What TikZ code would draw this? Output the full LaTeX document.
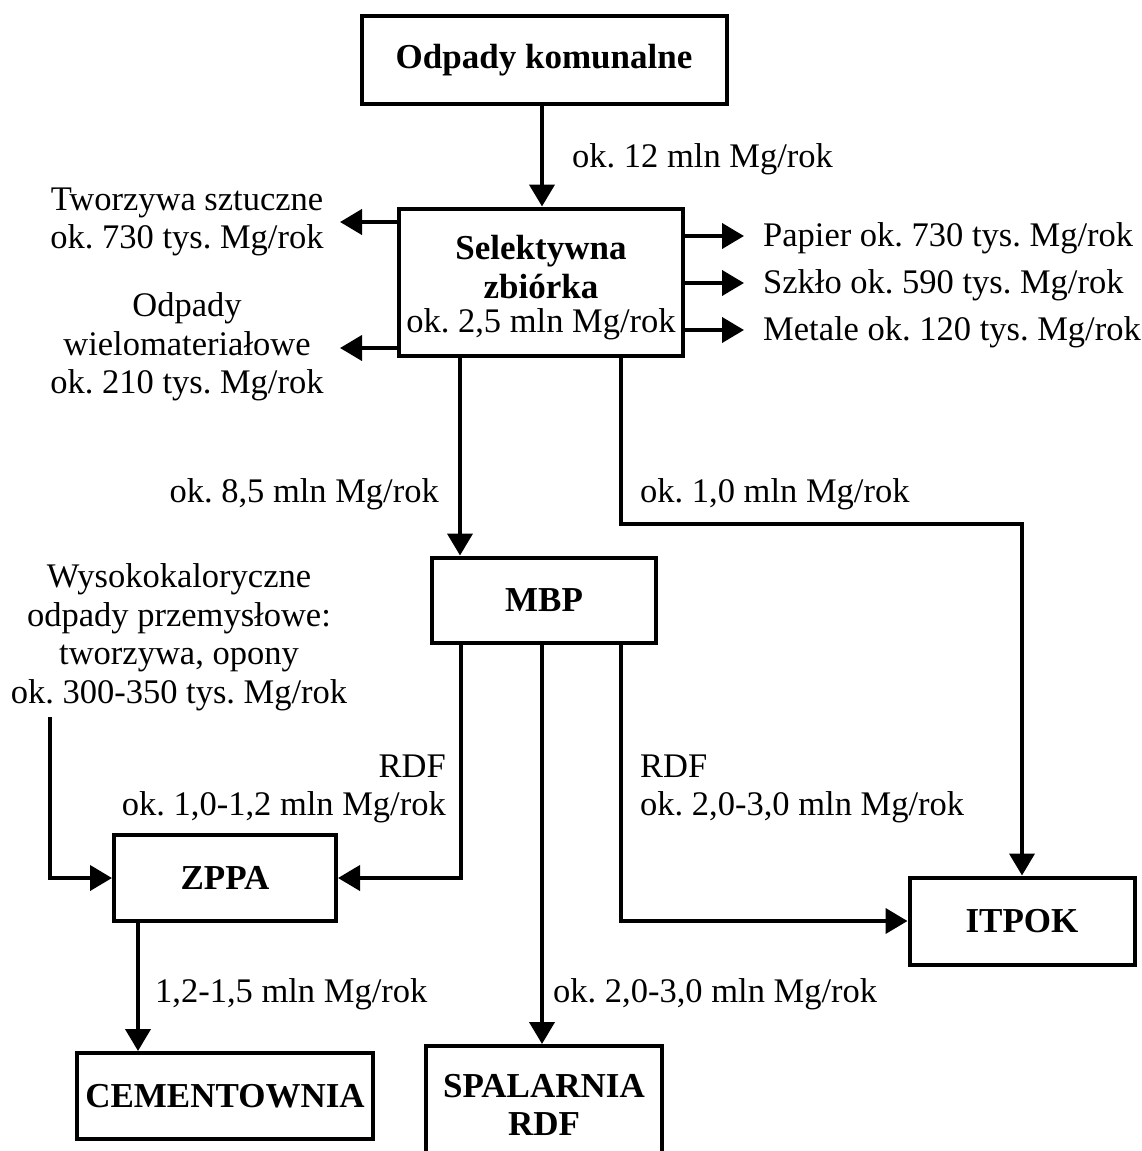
\documentclass[tikz,border=0pt]{standalone}
\usepackage{fontspec}
\setmainfont{Liberation Serif}
\usetikzlibrary{arrows.meta}
\frenchspacing
\tikzset{
  box/.style={draw, line width=4pt, font=\fontsize{35}{38}\selectfont\bfseries, align=center, inner sep=0pt},
  txt/.style={font=\fontsize{34.5}{38.5}\selectfont, inner sep=0pt},
  flow/.style={line width=4pt, -{Triangle[length=22pt,width=25pt]}}
}
\begin{document}
\begin{tikzpicture}[x=1pt,y=-1pt]
\useasboundingbox (0,0) rectangle (1142,1151);
% boxes
\node[box, minimum width=365pt, minimum height=88pt] (kom) at (544,60) {Odpady komunalne};
\node[box, minimum width=284pt, minimum height=147pt] (sel) at (541,282) {};
\node[box, draw=none] (selText) at ([yshift=-6pt]sel.center) {Selektywna\\[1pt]zbiórka\\[-4pt]{\mdseries\fontsize{34.5}{38}\selectfont ok. 2,5 mln Mg/rok}};
\node[box, minimum width=224pt, minimum height=85pt] (mbp) at (544,600) {MBP};
\node[box, minimum width=222pt, minimum height=86pt] (zppa) at (225,878) {ZPPA};
\node[box, minimum width=225pt, minimum height=87pt] (itpok) at (1022,921) {ITPOK};
\node[box, minimum width=296pt, minimum height=86pt] (cem) at (225,1096) {CEMENTOWNIA};
\node[box, minimum width=236pt, minimum height=118pt] (spal) at (544,1105) {SPALARNIA\\RDF};
% texts
\node[txt, align=center] (tw) at (187,222) {Tworzywa sztuczne\\ok. 730 tys. Mg/rok};
\node[txt, align=center] (wiel) at (187,347) {Odpady\\wielomateriałowe\\ok. 210 tys. Mg/rok};
\node[txt, anchor=west] (pap) at (763,238) {Papier ok. 730 tys. Mg/rok};
\node[txt, anchor=west] (szk) at (763,285) {Szkło ok. 590 tys. Mg/rok};
\node[txt, anchor=west] (met) at (763,332) {Metale ok. 120 tys. Mg/rok};
\node[txt, align=center] (wys) at (179,637) {Wysokokaloryczne\\odpady przemysłowe:\\tworzywa, opony\\ok. 300-350 tys. Mg/rok};
\node[txt, anchor=west] (l12) at (572,159) {ok. 12 mln Mg/rok};
\node[txt, anchor=east] (l85) at (439,494) {ok. 8,5 mln Mg/rok};
\node[txt, anchor=west] (l10) at (640,494) {ok. 1,0 mln Mg/rok};
\node[txt, anchor=east, align=right] (rdfa) at (446,789) {RDF\\ok. 1,0-1,2 mln Mg/rok};
\node[txt, anchor=west, align=left] (rdfb) at (640,789) {RDF\\ok. 2,0-3,0 mln Mg/rok};
\node[txt, anchor=west] (l15) at (155,994) {1,2-1,5 mln Mg/rok};
\node[txt, anchor=west] (l23) at (553,994) {ok. 2,0-3,0 mln Mg/rok};
% connectors
\coordinate (twTip) at (340,222);
\coordinate (wielTip) at (340,348);
\coordinate (papTip) at (744,236);
\coordinate (szkTip) at (744,283);
\coordinate (metTip) at (744,330);
\coordinate (bend) at (1022,524);
\coordinate (wysStart) at (50,717);
\draw[flow] ([xshift=-2pt]kom.south) -- ([xshift=-2pt]kom.south |- sel.north);
\draw[flow] (sel.west |- twTip) -- (twTip);
\draw[flow] (sel.west |- wielTip) -- (wielTip);
\draw[flow] (sel.east |- papTip) -- (papTip);
\draw[flow] (sel.east |- szkTip) -- (szkTip);
\draw[flow] (sel.east |- metTip) -- (metTip);
\draw[flow] ([xshift=-81pt]sel.south) -- ([xshift=-81pt]sel.south |- mbp.north);
\draw[flow] ([xshift=80pt]sel.south) |- (bend) -- (itpok.north);
\draw[flow] ([xshift=-83pt]mbp.south) |- (zppa.east);
\draw[flow] ([xshift=-2pt]mbp.south) -- ([xshift=-2pt]mbp.south |- spal.north);
\draw[flow] ([xshift=77pt]mbp.south) |- (itpok.west);
\draw[flow] (wysStart) |- (zppa.west);
\draw[flow] ([xshift=-87pt]zppa.south) -- ([xshift=-87pt]zppa.south |- cem.north);
\end{tikzpicture}
\end{document}
